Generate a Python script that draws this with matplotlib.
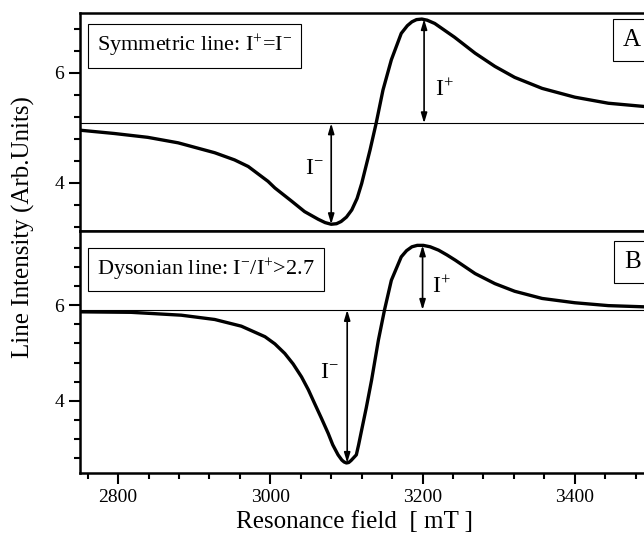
import matplotlib.pyplot as plt
from matplotlib.ticker import MultipleLocator

plt.rcParams['font.family'] = ['Liberation Serif', 'DejaVu Serif']
plt.rcParams['mathtext.fontset'] = 'custom'
plt.rcParams['mathtext.rm'] = 'Liberation Serif'
plt.rcParams['mathtext.it'] = 'Liberation Serif:italic'

# Panel A: symmetric line
field_a = [2750, 2795, 2839, 2879, 2927, 2953, 2971, 2997, 3006, 3028, 3045, 3063, 3072,
           3080, 3087, 3093, 3100, 3107, 3114, 3120, 3131, 3139, 3148, 3159, 3172,
           3180, 3186, 3192, 3199, 3206, 3216, 3242, 3269, 3295, 3321, 3357, 3400,
           3444, 3500]
inten_a = [4.96, 4.90, 4.83, 4.73, 4.55, 4.42, 4.30, 4.03, 3.91, 3.67, 3.48, 3.34, 3.28,
           3.25, 3.26, 3.30, 3.38, 3.51, 3.72, 3.99, 4.60, 5.085, 5.69, 6.24, 6.72,
           6.86, 6.93, 6.97, 6.98, 6.96, 6.90, 6.65, 6.36, 6.12, 5.92, 5.72, 5.56,
           5.45, 5.38]
base_a = 5.085

# Panel B: Dysonian line
field_b = [2750, 2817, 2883, 2927, 2962, 2993, 3006, 3019, 3030, 3041, 3050, 3058, 3067,
           3076, 3082, 3089, 3094, 3097, 3100, 3103, 3106, 3113, 3116, 3120, 3126,
           3133, 3142, 3150, 3159, 3172, 3179, 3186, 3193, 3201, 3210, 3221, 3232,
           3243, 3269, 3295, 3321, 3357, 3400, 3444, 3500]
inten_b = [5.86, 5.85, 5.79, 5.70, 5.56, 5.34, 5.19, 4.99, 4.77, 4.50, 4.23, 3.95, 3.64,
           3.32, 3.08, 2.87, 2.76, 2.72, 2.70, 2.71, 2.75, 2.87, 3.08, 3.39, 3.85,
           4.43, 5.27, 5.90, 6.52, 7.01, 7.14, 7.22, 7.25, 7.25, 7.22, 7.15, 7.05,
           6.94, 6.66, 6.45, 6.29, 6.14, 6.05, 5.99, 5.96]
base_b = 5.90

fig = plt.figure(figsize=(6.44, 5.38), dpi=100)
ax_a = fig.add_axes([0.1242, 0.5706, 0.8866, 0.4052])
ax_b = fig.add_axes([0.1242, 0.1208, 0.8866, 0.4498])


def style_axis(ax, ylim):
    ax.set_xlim(2750, 3500)
    ax.set_ylim(*ylim)
    ax.xaxis.set_major_locator(MultipleLocator(200))
    ax.xaxis.set_minor_locator(MultipleLocator(40))
    ax.yaxis.set_major_locator(MultipleLocator(2))
    ax.yaxis.set_minor_locator(MultipleLocator(0.4))
    ax.tick_params(which='both', direction='out', width=1.5, labelsize=14,
                   top=False, right=False)
    ax.tick_params(which='major', length=8)
    ax.tick_params(which='minor', length=4.5)
    for s in ax.spines.values():
        s.set_linewidth(1.8)


style_axis(ax_a, (3.127, 7.09))
style_axis(ax_b, (2.49, 7.55))
ax_a.tick_params(axis='x', labelbottom=False)

# curves and baselines
ax_a.plot(field_a, inten_a, color='black', lw=2.4)
ax_a.axhline(base_a, color='black', lw=0.8)
ax_b.plot(field_b, inten_b, color='black', lw=2.4)
ax_b.axhline(base_b, color='black', lw=0.8)

arrow = dict(arrowstyle='<|-|>,head_length=0.6,head_width=0.18', color='black',
             lw=1.2, shrinkA=0, shrinkB=0)
ax_a.annotate('', xy=(3080, min(inten_a)), xytext=(3080, base_a), arrowprops=arrow)
ax_a.annotate('', xy=(3202, max(inten_a)), xytext=(3202, base_a), arrowprops=arrow)
ax_b.annotate('', xy=(3101, min(inten_b)), xytext=(3101, base_b), arrowprops=arrow)
ax_b.annotate('', xy=(3200, max(inten_b)), xytext=(3200, base_b), arrowprops=arrow)

ax_a.text(3058, 4.27, r'$\mathrm{I}^{-}$', fontsize=17, ha='center', va='center')
ax_a.text(3228, 5.69, r'$\mathrm{I}^{+}$', fontsize=17, ha='center', va='center')
ax_b.text(3077, 4.6, r'$\mathrm{I}^{-}$', fontsize=17, ha='center', va='center')
ax_b.text(3225, 6.38, r'$\mathrm{I}^{+}$', fontsize=17, ha='center', va='center')

box = dict(boxstyle='square,pad=0.4', fc='white', ec='black', lw=0.8)
ax_a.text(0.030, 0.849, r'Symmetric line: $\mathrm{I}^{+}$=$\mathrm{I}^{-}$',
          transform=ax_a.transAxes, fontsize=16, va='center', ha='left', bbox=box)
ax_b.text(0.030, 0.841, r'Dysonian line: $\mathrm{I}^{-}$/$\mathrm{I}^{+}$>2.7',
          transform=ax_b.transAxes, fontsize=16, va='center', ha='left', bbox=box)
ax_a.text(0.967, 0.876, 'A', transform=ax_a.transAxes, fontsize=18,
          va='center', ha='center', bbox=box)
ax_b.text(0.967, 0.872, 'B', transform=ax_b.transAxes, fontsize=18,
          va='center', ha='center', bbox=box)

ax_b.set_xlabel('Resonance field  [ mT ]', fontsize=18)
ax_b.xaxis.set_label_coords(0.48, -0.155)
fig.text(0.036, 0.578, 'Line Intensity (Arb.Units)', rotation=90, fontsize=18,
         va='center', ha='center')

fig.savefig('out.png', dpi=100)
